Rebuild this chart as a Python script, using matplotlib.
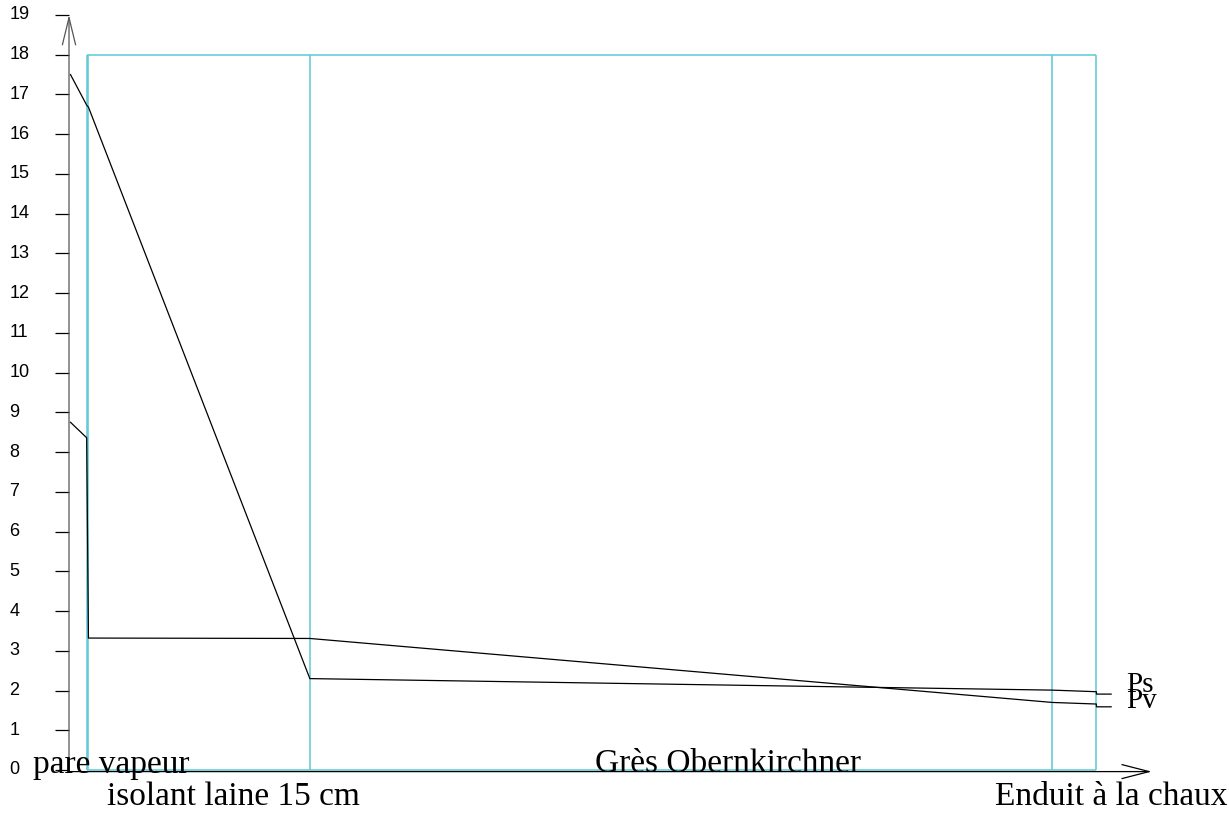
#!/usr/bin/env python3
"""
Pressure profile through a wall (Ps = saturation pressure, Pv = vapour
pressure), with the wall layers drawn as cyan boxes.
"""

import matplotlib
matplotlib.use("Agg")
import matplotlib.pyplot as plt

# layer boundaries along the wall (cm, origin at the inside face)
LAYER_EDGES = [1.2, 1.32, 16.35, 66.75, 69.75]
LAYER_TOP = 18.0
LAYER_NAMES = ["pare vapeur", "isolant laine 15 cm", "Grès Obernkirchner", "Enduit à la chaux"]
# where each layer name sits (x centre, baseline y)
NAME_X = [2.89, 11.17, 44.77, 70.74]
NAME_Y = [-0.075, -0.88, -0.05, -0.88]

# pressure curves
PS_X = [0.1, 1.2, 1.32, 16.35, 66.75, 69.75, 69.75, 70.75]
PS_Y = [17.5, 16.73, 16.68, 2.30, 2.01, 1.97, 1.91, 1.91]
PV_X = [0.1, 1.2, 1.32, 16.35, 66.75, 69.75, 69.75, 70.75]
PV_Y = [8.75, 8.36, 3.32, 3.31, 1.70, 1.66, 1.59, 1.59]

Y_TICKS = list(range(0, 20))

CYAN = "#5CC9D6"
PX_PER_X = 14.73   # pixels per x unit
PX_PER_Y = 39.74   # pixels per y unit
X0_PX, Y0_PX = 69.0, 770.0
W_PX, H_PX = 1229, 814


def main():
    fig = plt.figure(figsize=(W_PX / 100, H_PX / 100), dpi=100)
    ax = fig.add_axes([0, 0, 1, 1])
    ax.set_xlim(-X0_PX / PX_PER_X, (W_PX - X0_PX) / PX_PER_X)
    ax.set_ylim(-(H_PX - Y0_PX) / PX_PER_Y, Y0_PX / PX_PER_Y)
    ax.axis("off")

    # layers
    ax.vlines(LAYER_EDGES, 0, LAYER_TOP, color=CYAN, linewidth=1.1)
    ax.hlines([0.0, LAYER_TOP], LAYER_EDGES[0], LAYER_EDGES[-1], color=CYAN, linewidth=1.1)

    # axes with open arrow heads
    arrow = dict(color="black", linewidth=0.9, mutation_scale=14, shrinkA=0, shrinkB=0)
    ax.annotate("", xy=(0, 19.0), xytext=(0, 0),
                arrowprops=dict(arrow, color="#555555",
                                arrowstyle="->,head_length=1.4,head_width=0.34"))
    ax.annotate("", xy=(73.5, -0.04), xytext=(0, -0.04),
                arrowprops=dict(arrow, arrowstyle="->,head_length=1.4,head_width=0.36"))

    # y ticks and labels
    ax.hlines(Y_TICKS, -14.0 / PX_PER_X, 0, color="black", linewidth=0.9)
    for t in Y_TICKS:
        ax.text(-59.5 / PX_PER_X, t, str(t), ha="left", va="center",
                fontsize=13, family="Liberation Sans")

    # curves
    ax.plot(PS_X, PS_Y, color="black", linewidth=0.9)
    ax.plot(PV_X, PV_Y, color="black", linewidth=0.9)
    ax.text(71.76, 1.96, "Ps", ha="left", va="baseline", fontsize=21, family="Liberation Serif")
    ax.text(71.76, 1.56, "Pv", ha="left", va="baseline", fontsize=21, family="Liberation Serif")

    # layer names
    for name, x, y in zip(LAYER_NAMES, NAME_X, NAME_Y):
        ax.text(x, y, name, ha="center", va="baseline", fontsize=24, family="Liberation Serif")

    fig.savefig("out.png", dpi=100)
    plt.close(fig)


if __name__ == "__main__":
    main()
